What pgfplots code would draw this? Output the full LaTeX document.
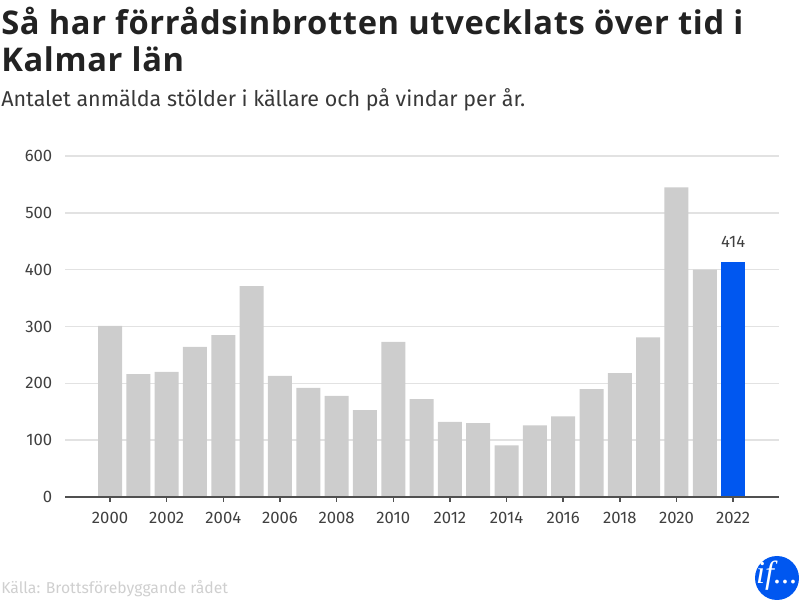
\documentclass[border=0pt]{standalone}
\usepackage{fontspec}
\usepackage{pgfplots}
\pgfplotsset{compat=1.18}
\setmainfont{Fira Sans}
\newfontfamily\titlefont[LetterSpace=2]{Open Sans}
\newfontfamily\logofont{Liberation Serif}
\definecolor{titlec}{HTML}{222222}
\definecolor{tickc}{HTML}{404040}
\definecolor{axisc}{HTML}{505050}
\definecolor{gridc}{HTML}{E2E2E2}
\definecolor{barc}{HTML}{CDCDCD}
\definecolor{bluec}{HTML}{0057F0}
\definecolor{srcc}{HTML}{CFCFCF}
\begin{document}
\begin{tikzpicture}
\path[use as bounding box] (0,0) rectangle (600pt,450pt);
\begin{axis}[
  at={(48.75pt,77.25pt)}, anchor=south west,
  scale only axis, width=535.5pt, height=255.75pt,
  xmin=1998.41, xmax=2023.62, ymin=0, ymax=600,
  axis x line*=bottom, axis y line*=left,
  y axis line style={draw=none},
  x axis line style={draw=axisc,line width=1.5pt,-},
  xtick={2000,2002,...,2022},
  ytick={0,100,...,600},
  xticklabel style={/pgf/number format/1000 sep={},text=tickc,font=\fontsize{12.5pt}{14pt}\selectfont},
  yticklabel style={text=tickc,font=\fontsize{12.5pt}{14pt}\selectfont},
  /pgf/number format/assume math mode=true,
  /pgf/number format/1000 sep={},
  ymajorgrids, grid style={draw=gridc,line width=1.2pt},
  major tick length=3.75pt,
  tick style={draw=axisc,line width=1.1pt},
  ytick style={draw=none},
  xtick align=outside,
  yticklabel shift=6pt,
  xticklabel shift=4pt,
  ybar, bar shift=0pt, bar width=18pt,
]
\addplot[fill=barc,draw=none] coordinates {
(2000,301)(2001,216)(2002,220)(2003,264)(2004,285)(2005,371)(2006,213)(2007,192)
(2008,178)(2009,153)(2010,273)(2011,172)(2012,132)(2013,130)(2014,91)(2015,126)
(2016,142)(2017,190)(2018,218)(2019,281)(2020,545)(2021,400)};
\addplot[fill=bluec,draw=none,
  nodes near coords, every node near coord/.append style={text=tickc,font=\fontsize{12.5pt}{14pt}\selectfont,yshift=7pt}] coordinates {(2022,414)};
\draw[axisc,line width=1.5pt] (rel axis cs:0,0) -- (rel axis cs:1,0);
\end{axis}
\begin{scope}[x=0.75pt,y=-0.75pt,yshift=450pt]
\node[anchor=base west,inner sep=0pt,text=titlec,font=\titlefont\fontsize{24.5pt}{26pt}\selectfont\bfseries] at (1,35) {Så har förrådsinbrotten utvecklats över tid i};
\node[anchor=base west,inner sep=0pt,text=titlec,font=\titlefont\fontsize{24.5pt}{26pt}\selectfont\bfseries] at (1,72) {Kalmar län};
\node[anchor=base west,inner sep=0pt,text=titlec!90,font=\fontsize{16.1pt}{18pt}\selectfont] at (1,107) {Antalet anmälda stölder i källare och på vindar per år.};
\node[anchor=base west,inner sep=0pt,text=srcc,font=\fontsize{11.8pt}{14pt}\selectfont] at (1,593) {Källa: Brottsförebyggande rådet};
\fill[bluec] (777,578) circle[radius=22];
\node[anchor=center,inner sep=0pt,text=white,font=\logofont\itshape\fontsize{24pt}{26pt}\selectfont] at (777,576) {if...};
\end{scope}
\end{tikzpicture}
\end{document}
